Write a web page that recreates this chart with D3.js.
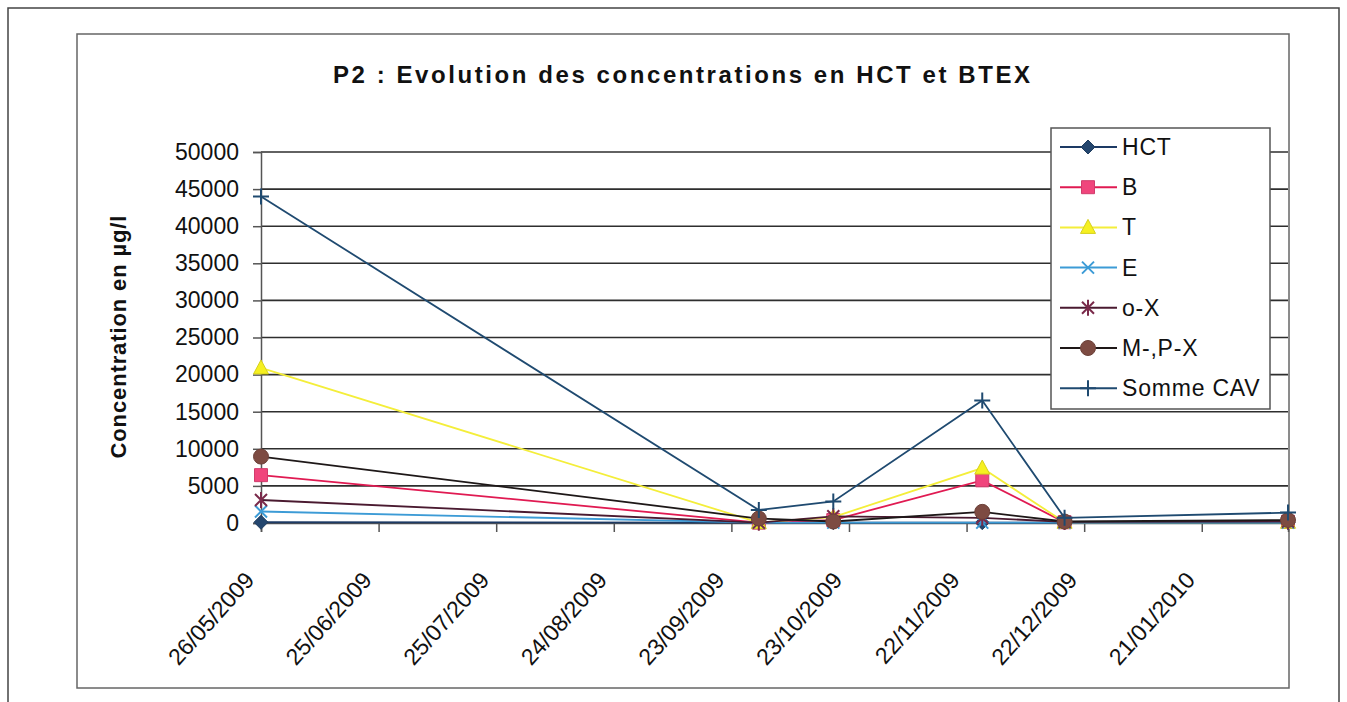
<html lang="fr">
<head>
<meta charset="utf-8">
<title>P2 : Evolution des concentrations en HCT et BTEX</title>
<script src="https://d3js.org/d3.v7.min.js"></script>
<style>
  body { margin: 0; background: #fff; }
  text { font-family: "Liberation Sans", Arial, sans-serif; fill: #111; }
</style>
</head>
<body>
<script>

// sampling dates and values (µg/l)
var dates = ["26/05/2009", "30/09/2009", "19/10/2009", "26/11/2009", "17/12/2009", "12/02/2010"];
var hct   = [100, 50, 50, 50, 50, 50];
var b     = [6450, 50, 400, 5750, 100, 150];
var t     = [20900, 50, 800, 7400, 100, 100];
var e     = [1550, 50, 50, 50, 50, 50];
var oX    = [3100, 50, 900, 700, 150, 200];
var mpX   = [8950, 600, 200, 1500, 200, 400];
var somme = [44000, 1750, 2900, 16500, 700, 1400];

var seriesNames = ["HCT", "B", "T", "E", "o-X", "M-,P-X", "Somme CAV"];
var xTickLabels = ["26/05/2009", "25/06/2009", "25/07/2009", "24/08/2009", "23/09/2009",
                   "23/10/2009", "22/11/2009", "22/12/2009", "21/01/2010"];
var yTicks = [0, 5000, 10000, 15000, 20000, 25000, 30000, 35000, 40000, 45000, 50000];

var styles = [
    {line: "#1d3a64", fill: "#24466e", marker: "diamond"},
    {line: "#e01a52", fill: "#f0457c", marker: "square"},
    {line: "#f4ee3a", fill: "#f6f020", marker: "triangle"},
    {line: "#3c9bd6", fill: "#3c9bd6", marker: "x"},
    {line: "#4a1a30", fill: "#7a2a4a", marker: "star"},
    {line: "#1e1818", fill: "#7d4b42", marker: "circle"},
    {line: "#1f4a70", fill: "#1f4a70", marker: "plus"}
];
var values = [hct, b, t, e, oX, mpX, somme];

var parse = d3.utcParse("%d/%m/%Y");
var fmt = d3.utcFormat("%d/%m/%Y");

var width = 1347, height = 702;
var svg = d3.select("body").append("svg")
    .attr("width", width)
    .attr("height", height);

// page border and chart frame
svg.append("path")
    .attr("d", "M8,710 L8,8 L1339,8 L1339,710")
    .attr("fill", "none").attr("stroke", "#444").attr("stroke-width", 1.5);
svg.append("rect")
    .attr("x", 77).attr("y", 34).attr("width", 1212).attr("height", 654)
    .attr("fill", "#fff").attr("stroke", "#666").attr("stroke-width", 1.5);

var x = d3.scaleUtc()
    .domain([parse(dates[0]), parse(dates[dates.length - 1])])
    .range([261, 1288]);
var y = d3.scaleLinear()
    .domain([0, 50000])
    .range([523, 152]);

// gridlines
svg.append("g")
    .selectAll("line")
    .data(yTicks.slice(1))
    .enter().append("line")
      .attr("x1", x.range()[0]).attr("x2", x.range()[1])
      .attr("y1", function(d) { return y(d); })
      .attr("y2", function(d) { return y(d); })
      .attr("stroke", "#2e2e2e").attr("stroke-width", 1.6);

// y axis
var yAxis = svg.append("g")
    .attr("transform", "translate(261,0)")
    .call(d3.axisLeft(y).tickValues(yTicks).tickSize(8).tickPadding(14).tickFormat(d3.format("d")));
yAxis.selectAll("text").attr("font-size", "23px").attr("font-family", "Liberation Sans, Arial, sans-serif").attr("fill", "#111");
yAxis.selectAll("line, path").attr("stroke", "#555").attr("stroke-width", 1.5);

// x axis
var xAxis = svg.append("g")
    .attr("transform", "translate(0,523)")
    .call(d3.axisBottom(x).tickValues(xTickLabels.map(parse)).tickSize(9).tickFormat(fmt));
xAxis.select(".domain").attr("stroke", "#555").attr("stroke-width", 1.5);
xAxis.selectAll("line").attr("stroke", "#555").attr("stroke-width", 1.5);
xAxis.selectAll("text")
    .attr("font-size", "23px")
    .attr("font-family", "Liberation Sans, Arial, sans-serif")
    .attr("fill", "#111")
    .attr("text-anchor", "end")
    .attr("dy", null)
    .attr("y", null)
    .attr("transform", "translate(-6,58) rotate(-48)");

// marker shapes
function markerPath(type) {
    switch (type) {
        case "diamond": return "M0,-7L7,0L0,7L-7,0Z";
        case "square": return "M-6.5,-6.5H6.5V6.5H-6.5Z";
        case "triangle": return "M0,-8L7.5,6H-7.5Z";
        case "circle": return "M7.5,0A7.5,7.5 0 1,1 -7.5,0A7.5,7.5 0 1,1 7.5,0Z";
        case "x": return "M-6,-6L6,6M-6,6L6,-6";
        case "star": return "M-6,-6L6,6M-6,6L6,-6M0,-8V8";
        case "plus": return "M-8,0H8M0,-8V8";
    }
}
function drawMarker(sel, s) {
    var open = (s.marker == "x" || s.marker == "star" || s.marker == "plus");
    sel.attr("d", markerPath(s.marker))
       .attr("fill", open ? "none" : s.fill)
       .attr("stroke", open ? s.fill : d3.color(s.fill).darker(0.4))
       .attr("stroke-width", open ? 2 : 1);
}

var line = d3.line()
    .x(function(d) { return x(d.date); })
    .y(function(d) { return y(d.v); });

values.forEach(function(vals, i) {
    var pts = vals.map(function(v, j) { return {date: parse(dates[j]), v: v}; });
    var g = svg.append("g").attr("class", "series");
    g.append("path")
        .datum(pts)
        .attr("fill", "none")
        .attr("stroke", styles[i].line)
        .attr("stroke-width", 1.8)
        .attr("d", line);
    g.selectAll(".m")
        .data(pts)
        .enter().append("path")
          .attr("class", "m")
          .attr("transform", function(d) { return "translate(" + x(d.date) + "," + y(d.v) + ")"; })
          .call(drawMarker, styles[i]);
});

// title
svg.append("text")
    .attr("x", 333)
    .attr("y", 83)
    .attr("font-size", "24px")
    .attr("font-weight", "bold")
    .attr("textLength", 697)
    .attr("lengthAdjust", "spacing")
    .text("P2 : Evolution des concentrations en HCT et BTEX");

// y label
svg.append("text")
    .attr("transform", "translate(126,337) rotate(-90)")
    .attr("text-anchor", "middle")
    .attr("font-size", "22px")
    .attr("font-weight", "bold")
    .attr("textLength", 243)
    .attr("lengthAdjust", "spacing")
    .text("Concentration en µg/l");

// legend
var legend = svg.append("g").attr("class", "legend");
legend.append("rect")
    .attr("x", 1051).attr("y", 128).attr("width", 219).attr("height", 281)
    .attr("fill", "#fff").attr("stroke", "#555").attr("stroke-width", 1.5);

var item = legend.selectAll(".item")
    .data(seriesNames)
    .enter().append("g")
      .attr("class", "item")
      .attr("transform", function(d, i) { return "translate(0," + (147 + i * 40.2) + ")"; });
item.append("line")
    .attr("x1", 1060).attr("x2", 1117)
    .attr("stroke", function(d, i) { return styles[i].line; })
    .attr("stroke-width", 2);
item.append("path")
    .attr("transform", "translate(1088,0)")
    .each(function(d, i) { d3.select(this).call(drawMarker, styles[i]); });
item.append("text")
    .attr("x", 1122)
    .attr("y", 8)
    .attr("font-size", "23px")
    .attr("letter-spacing", "0.8px")
    .text(function(d) { return d; });

</script>
</body>
</html>
